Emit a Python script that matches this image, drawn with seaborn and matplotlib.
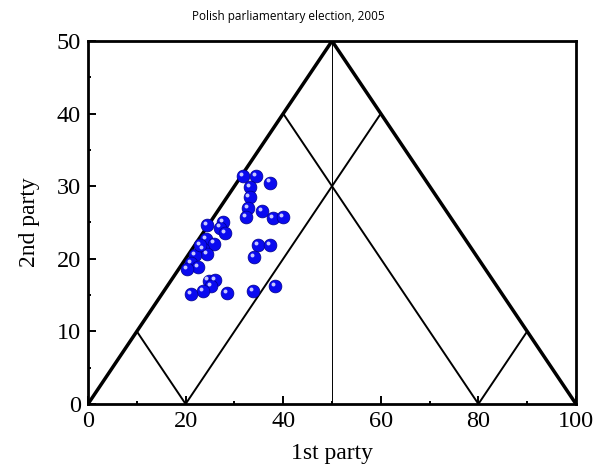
import numpy as np
import pandas as pd
import matplotlib
matplotlib.use("Agg")
import matplotlib.pyplot as plt
import matplotlib.transforms as mtransforms
import seaborn as sns

# vote shares (%) of 1st and 2nd party per district
first_party = [31.7, 34.4, 37.3, 33.2, 33.1, 32.8, 32.4, 35.7, 38.0, 40.0,
               34.9, 37.3, 34.0, 38.3, 33.9, 24.3, 27.7, 27.0, 28.1, 24.1,
               25.9, 23.6, 24.4, 21.9, 21.1, 22.6, 20.3, 24.7, 26.0, 25.3,
               23.6, 21.2, 28.4, 23.0]
second_party = [31.4, 31.4, 30.5, 29.9, 28.5, 27.0, 25.7, 26.6, 25.6, 25.7,
                21.9, 21.9, 20.3, 16.3, 15.5, 24.6, 25.0, 24.3, 23.5, 22.7,
                22.1, 21.4, 20.6, 20.5, 19.4, 18.9, 18.6, 17.0, 17.1, 16.2,
                15.5, 15.2, 15.3, 21.9]

# outer triangle and inner guide lines
tri_x = [0, 50, 100]
tri_y = [0, 50, 0]
guides = [
    ([10, 20], [10, 0]),
    ([20, 60], [0, 40]),
    ([40, 80], [40, 0]),
    ([80, 90], [0, 10]),
]
mid_x = [50, 50]
mid_y = [0, 50]

df = pd.DataFrame({"first": first_party, "second": second_party})

sns.set_style("ticks")
plt.rcParams["font.family"] = ["Liberation Serif", "DejaVu Serif"]
plt.rcParams["text.color"] = "black"
plt.rcParams["axes.labelcolor"] = "black"

fig = plt.figure(figsize=(6, 4.68), dpi=100)
ax = fig.add_axes([0.1467, 0.1368, 0.8133, 0.7756])

sns.lineplot(x=tri_x, y=tri_y, sort=False, estimator=None, color="black",
             linewidth=2.5, ax=ax)
for gx, gy in guides:
    sns.lineplot(x=gx, y=gy, sort=False, estimator=None, color="black",
                 linewidth=1.4, ax=ax)
sns.lineplot(x=mid_x, y=mid_y, sort=False, estimator=None, color="black",
             linewidth=0.7, ax=ax)

# spheres: blue ball plus a small highlight shifted up-left
sns.scatterplot(data=df, x="first", y="second", s=85, color="#0a0af0",
                edgecolor="#00008a", linewidth=0.5, ax=ax, zorder=3)
shift = mtransforms.offset_copy(ax.transData, fig=fig, x=-1.5, y=1.5, units="points")
ax.scatter(df["first"], df["second"], s=8, color="#c8c8ff", linewidths=0,
           transform=shift, zorder=4)

ax.set_xlim(0, 100)
ax.set_ylim(0, 50)
ax.set_xticks([0, 20, 40, 60, 80, 100])
ax.set_xticks([10, 30, 50, 70, 90], minor=True)
ax.set_yticks([0, 10, 20, 30, 40, 50])
ax.set_yticks([5, 15, 25, 35, 45], minor=True)
ax.tick_params(which="both", direction="in", labelsize=17.5, width=1.4,
               colors="black", pad=5)
ax.tick_params(which="major", length=5.5)
ax.tick_params(which="minor", length=2.5)
for sp in ax.spines.values():
    sp.set_linewidth(2.0)
    sp.set_color("black")

ax.set_xlabel("1st party", fontsize=17, labelpad=8)
ax.set_ylabel("2nd party", fontsize=17, labelpad=12)

fig.suptitle("Polish parliamentary election, 2005", x=0.48, y=0.978,
             fontsize=8.5, family=["Open Sans", "DejaVu Sans"])

fig.savefig("out.png", dpi=100)
